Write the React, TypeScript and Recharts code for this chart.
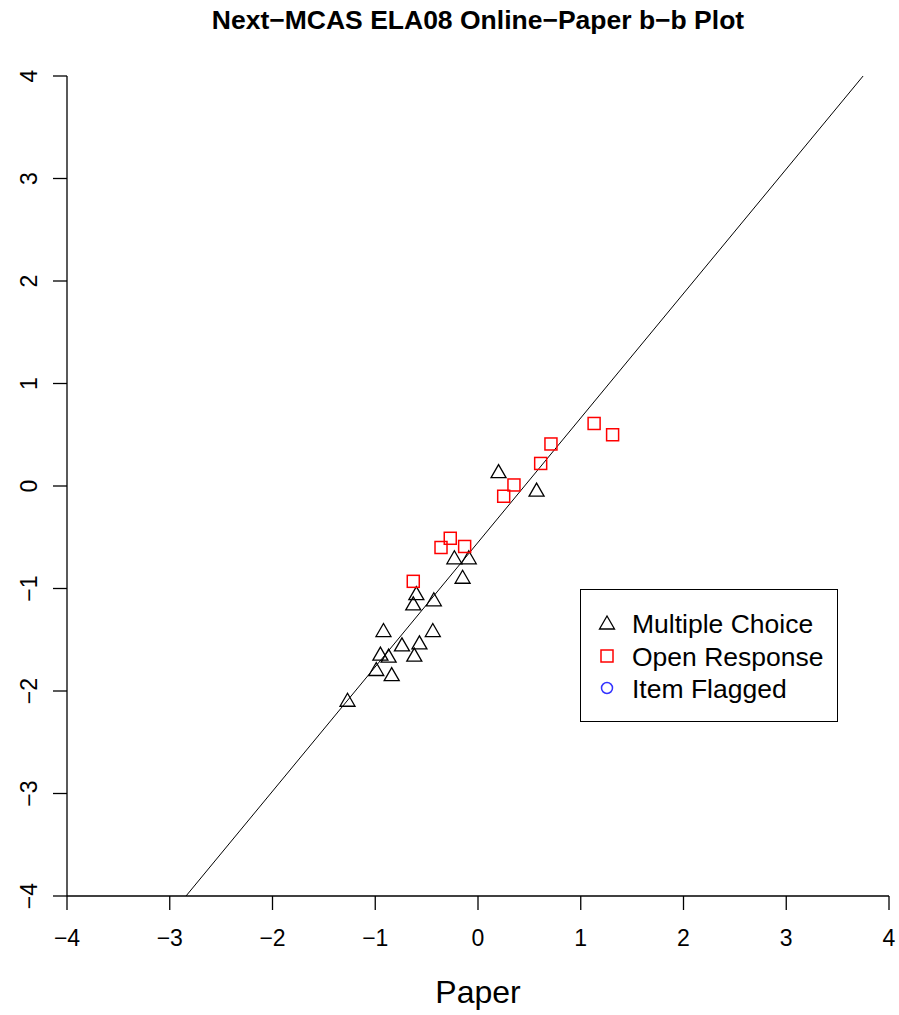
import React from "react";
import { ScatterChart, Scatter, XAxis, YAxis, ReferenceLine } from "recharts";

// Multiple choice items: paper vs online b parameters
const mcPaper = [0.2, 0.57, -0.23, -0.09, -0.15, -0.6, -0.63, -0.43, -0.92, -0.44, -0.74, -0.57, -0.95, -0.87, -0.62, -0.99, -0.84, -1.27];
const mcOnline = [0.13, -0.05, -0.71, -0.71, -0.9, -1.06, -1.16, -1.12, -1.42, -1.42, -1.56, -1.54, -1.65, -1.67, -1.66, -1.8, -1.85, -2.1];

// Open response items
const orPaper = [1.13, 1.31, 0.71, 0.61, 0.35, 0.25, -0.27, -0.36, -0.13, -0.63];
const orOnline = [0.61, 0.5, 0.41, 0.22, 0.01, -0.1, -0.51, -0.6, -0.59, -0.93];

const axisTicks = [-4, -3, -2, -1, 0, 1, 2, 3, 4];

// fitted line online = a + b * paper
const fitIntercept = -0.55;
const fitSlope = 1.214;

const sans = "'Liberation Sans', Arial, sans-serif";

const mcData = mcPaper.map((x, i) => ({ x, y: mcOnline[i] }));
const orData = orPaper.map((x, i) => ({ x, y: orOnline[i] }));

const lineX = (y: number) => (y - fitIntercept) / fitSlope;
const fmt = (v: number) => (v < 0 ? `\u2212${Math.abs(v)}` : `${v}`);

const Triangle = (props: any) => {
  const { cx, cy } = props;
  return (
    <polygon
      points={`${cx},${cy - 8} ${cx - 7.5},${cy + 5} ${cx + 7.5},${cy + 5}`}
      fill="none"
      stroke="#000"
      strokeWidth={1.3}
    />
  );
};

const Square = (props: any) => {
  const { cx, cy } = props;
  return <rect x={cx - 6} y={cy - 6} width={12} height={12} fill="none" stroke="#ff0000" strokeWidth={1.5} />;
};

const XTick = ({ x, y, payload }: any) => (
  <text x={x} y={y + 34} textAnchor="middle" fontFamily={sans} fontSize={23} fill="#000">
    {fmt(payload.value)}
  </text>
);

const YTick = ({ y, payload }: any) => (
  <text
    x={37}
    y={y}
    textAnchor="middle"
    fontFamily={sans}
    fontSize={23}
    fill="#000"
    transform={`rotate(-90, 37, ${y})`}
  >
    {fmt(payload.value)}
  </text>
);

export default function App() {
  return (
    <div style={{ position: "absolute", left: 0, top: 0, width: 899, height: 1015, background: "#fff" }}>
      <ScatterChart width={899} height={1015} margin={{ top: 76, right: 10, left: 0, bottom: 0 }}>
        <XAxis
          type="number"
          dataKey="x"
          domain={[-4, 4]}
          ticks={axisTicks}
          allowDataOverflow
          height={119}
          tickSize={14}
          tickLine={{ stroke: "#000", strokeWidth: 1.3 }}
          axisLine={{ stroke: "#000", strokeWidth: 1.3 }}
          tick={<XTick />}
          label={{ value: "Paper", position: "insideBottom", offset: 12, fontFamily: sans, fontSize: 32, fill: "#000" }}
        />
        <YAxis
          type="number"
          dataKey="y"
          domain={[-4, 4]}
          ticks={axisTicks}
          allowDataOverflow
          width={67}
          tickSize={14}
          tickLine={{ stroke: "#000", strokeWidth: 1.3 }}
          axisLine={{ stroke: "#000", strokeWidth: 1.3 }}
          tick={<YTick />}
        />
        <ReferenceLine
          segment={[
            { x: lineX(-4), y: -4 },
            { x: lineX(4), y: 4 },
          ]}
          stroke="#000"
          strokeWidth={1}
          ifOverflow="visible"
        />
        <Scatter data={mcData} shape={<Triangle />} isAnimationActive={false} />
        <Scatter data={orData} shape={<Square />} isAnimationActive={false} />
      </ScatterChart>
      <svg width={899} height={40} style={{ position: "absolute", left: 0, top: 0 }}>
        <text x={478} y={29} textAnchor="middle" fontFamily={sans} fontWeight="bold" fontSize={26.5} fill="#000">
          Next−MCAS ELA08 Online−Paper b−b Plot
        </text>
      </svg>
      <div
        style={{
          position: "absolute",
          left: 580,
          top: 589,
          width: 258,
          height: 133,
          border: "1.5px solid #000",
          boxSizing: "border-box",
        }}
      >
        <svg width={258} height={133} style={{ position: "absolute", left: 0, top: 0 }}>
          <polygon points="26,26 18.5,39 33.5,39" fill="none" stroke="#000" strokeWidth={1.3} />
          <rect x={20} y={60} width={12} height={12} fill="none" stroke="#ff0000" strokeWidth={1.5} />
          <circle cx={26} cy={98} r={5.5} fill="none" stroke="#3333ff" strokeWidth={1.5} />
          <text x={51} y={43} fontFamily={sans} fontSize={26.5} fill="#000">Multiple Choice</text>
          <text x={51} y={76} fontFamily={sans} fontSize={26.5} fill="#000">Open Response</text>
          <text x={51} y={108} fontFamily={sans} fontSize={26.5} fill="#000">Item Flagged</text>
        </svg>
      </div>
    </div>
  );
}
